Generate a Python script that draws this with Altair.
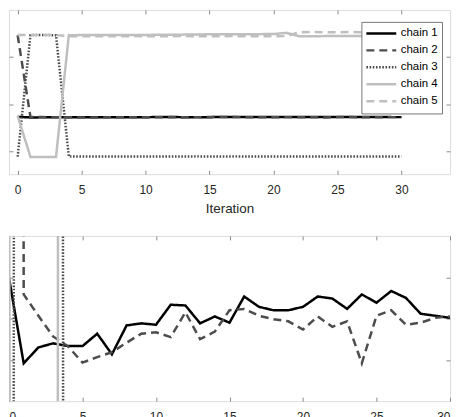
import altair as alt
import pandas as pd

iterations = list(range(31))
chain_names = ["chain 1", "chain 2", "chain 3", "chain 4", "chain 5"]

chain1 = [737.9, 725.5, 727.8, 728.4, 728.0, 728.0, 729.8, 726.8, 731.0, 731.3, 731.1,
          734.0, 733.9, 731.3, 732.3, 731.4, 735.2, 733.7, 733.2, 733.2, 733.7,
          735.2, 734.9, 733.4, 735.5, 734.3, 736.0, 735.0, 732.7, 732.4, 732.1]
chain2 = [2463, 735.5, 732.4, 729.4, 728.0, 725.6, 726.4, 727.1, 728.5, 729.8, 730.0,
          729.3, 732.9, 729.0, 730.1, 733.2, 733.4, 732.4, 731.9, 731.6, 730.4,
          732.3, 730.8, 731.6, 725.5, 732.4, 733.2, 731.1, 731.4, 732.1, 732.3]
chain3 = [-105, 2467, 2470, 2465, -100, -102, -101, -100, -99, -101, -100,
          -101, -99, -100, -98, -99, -100, -98, -99, -100, -101,
          -100, -99, -100, -101, -100, -101, -102, -101, -100, -101]
chain4 = [760, -109, -109, -109, 2465, 2468, 2470, 2470, 2472, 2470, 2472,
          2473, 2475, 2478, 2480, 2485, 2486, 2487, 2488, 2488, 2490,
          2515, 2445, 2445, 2446, 2446, 2447, 2446, 2446, 2445, 2446]
chain5 = [2470, 2468, 2470, 2468, 2445, 2443, 2444, 2445, 2444, 2446, 2445,
          2444, 2445, 2446, 2445, 2444, 2445, 2446, 2444, 2445, 2445,
          2446, 2530, 2531, 2530, 2530, 2531, 2530, 2530, 2531, 2530]

x_ticks = [0, 5, 10, 15, 20, 25, 30]
top_y_ticks = [0, 1000, 2000]
bottom_y_ticks = [726, 732, 738]

chain_colors = ["#000000", "#4d4d4d", "#4d4d4d", "#bfbfbf", "#bfbfbf"]
chain_dashes = [[1, 0], [8, 5], [1.6, 1.6], [1, 0], [8, 5]]

rows = []
for name, series in zip(chain_names, [chain1, chain2, chain3, chain4, chain5]):
    for it, v in zip(iterations, series):
        rows.append({"iter": it, "chain": name, "value": v})
df = pd.DataFrame(rows)

FONT = "Liberation Sans"
FRAME = "#8a8a8a"
TXT = "#262626"
W = 443


def axis(orient, values, labels=False, title=None, flush=False, **kw):
    return alt.Axis(orient=orient, values=values, labels=labels, title=title,
                    domain=False, grid=False, ticks=True, tickSize=4, offset=-4,
                    tickColor=FRAME, tickWidth=1, labelFont=FONT, labelFontSize=12,
                    labelColor=TXT, labelFlush=flush, minExtent=0, **kw)


def panel(xdom, ydom, yvals, legend, xtitle, height, flush):
    xs = alt.Scale(domain=xdom, nice=False, zero=False)
    ys = alt.Scale(domain=ydom, nice=False, zero=False)
    base = alt.Chart(df)
    extra = {}
    if xtitle:
        extra.update(titleFont=FONT, titleFontSize=13.5, titleFontWeight="normal",
                     titleColor=TXT, titlePadding=6)
    lines = base.mark_line(clip=True, strokeWidth=2.5, strokeCap="butt").encode(
        x=alt.X("iter:Q", scale=xs,
                axis=axis("bottom", x_ticks, labels=True, title=xtitle, flush=flush,
                          labelPadding=10, **extra)),
        y=alt.Y("value:Q", scale=ys, axis=axis("left", yvals)),
        color=alt.Color("chain:N",
                        scale=alt.Scale(domain=chain_names, range=chain_colors),
                        legend=legend),
        strokeDash=alt.StrokeDash("chain:N",
                                  scale=alt.Scale(domain=chain_names, range=chain_dashes),
                                  legend=legend),
    )
    mirror = base.mark_line(clip=True, strokeOpacity=0).encode(
        x=alt.X("iter:Q", scale=xs, axis=axis("top", x_ticks)),
        y=alt.Y("value:Q", scale=ys, axis=axis("right", yvals)),
        detail="chain:N",
    )
    return alt.layer(lines, mirror).resolve_axis(x="independent", y="independent").properties(
        width=W, height=height)


legend = alt.Legend(title=None, orient="none", legendX=354, legendY=12,
                    symbolType="stroke", symbolSize=900, symbolStrokeWidth=2.5,
                    clipHeight=16.25, rowPadding=0, padding=3.5, symbolOffset=0,
                    labelFont=FONT, labelFontSize=11.5, labelColor="#000000",
                    labelOffset=3, fillColor="white", strokeColor="#777777",
                    cornerRadius=0)

top = panel([-0.677, 33.8], [-475, 3000], top_y_ticks, legend, "Iteration", 165, False)
bottom = panel([0, 30], [720, 744], bottom_y_ticks, None, None, 166, True)

chart = alt.vconcat(top, bottom, spacing=20).resolve_scale(
    color="independent", strokeDash="independent"
).properties(
    padding={"left": 0, "top": 0, "right": 0, "bottom": 0}
).configure_view(stroke=FRAME, strokeWidth=1).configure(background="white")

chart.save("out.html", embed_options={"renderer": "svg", "actions": False})
